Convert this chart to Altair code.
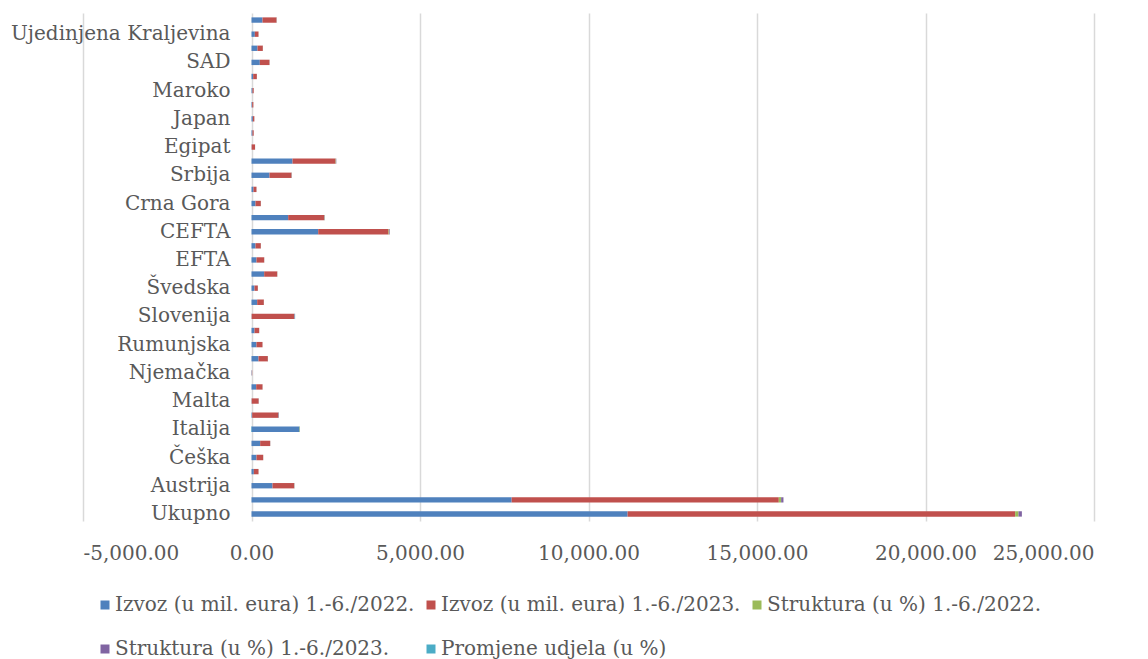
import altair as alt
import pandas as pd

# Categories from bottom (Ukupno) to top
kategorije = [
    "Ukupno", "EU", "Austrija", "Belgija", "Češka", "Francuska", "Italija",
    "Mađarska", "Malta", "Nizozemska", "Njemačka", "Poljska", "Rumunjska",
    "Slovačka", "Slovenija", "Španjolska", "Švedska", "Ostale zemlje EU",
    "EFTA", "Švicarska", "CEFTA", "Bosna i Hercegovina", "Crna Gora",
    "Sjeverna Makedonija", "Srbija", "Ostale zemlje", "Egipat", "Indija",
    "Japan", "Kina", "Maroko", "Rusija", "SAD", "Turska",
    "Ujedinjena Kraljevina", "Ostalo",
]
prikazane_oznake = [
    "Ukupno", "Austrija", "Češka", "Italija", "Malta", "Njemačka", "Rumunjska",
    "Slovenija", "Švedska", "EFTA", "CEFTA", "Crna Gora", "Srbija", "Egipat",
    "Japan", "Maroko", "SAD", "Ujedinjena Kraljevina",
]

izvoz_2022 = [11160, 7720, 623, 69, 148, 257, 1425, 20, 5, 139, 10, 208, 148,
              89, 5, 168, 89, 376, 148, 119, 1979, 1088, 119, 59, 534, 1217,
              5, 30, 40, 20, 30, 50, 247, 178, 99, 327]
izvoz_2023 = [11500, 7927, 643, 139, 198, 297, 0, 782, 208, 188, 10, 277, 178,
              139, 1267, 198, 99, 386, 228, 158, 2088, 1069, 158, 89, 653, 1277,
              100, 35, 45, 35, 35, 109, 287, 158, 109, 416]
struktura_2022 = [100, 69.2, 5.6, 0.6, 1.3, 2.3, 12.8, 0.2, 0.0, 1.2, 0.1, 1.9,
                  1.3, 0.8, 0.0, 1.5, 0.8, 3.4, 1.3, 1.1, 17.7, 9.7, 1.1, 0.5,
                  4.8, 10.9, 0.0, 0.3, 0.4, 0.2, 0.3, 0.4, 2.2, 1.6, 0.9, 2.9]
struktura_2023 = [100, 68.9, 5.6, 1.2, 1.7, 2.6, 0.0, 6.8, 1.8, 1.6, 0.1, 2.4,
                  1.5, 1.2, 11.0, 1.7, 0.9, 3.4, 2.0, 1.4, 18.2, 9.3, 1.4, 0.8,
                  5.7, 11.1, 0.9, 0.3, 0.4, 0.3, 0.3, 0.9, 2.5, 1.4, 0.9, 3.6]
promjene_udjela = [0.0, -0.3, 0.0, 0.6, 0.4, 0.3, -12.8, 6.6, 1.8, 0.4, 0.0,
                   0.5, 0.2, 0.4, 11.0, 0.2, 0.1, 0.0, 0.7, 0.3, 0.5, -0.4,
                   0.3, 0.3, 0.9, 0.2, 0.9, 0.0, 0.0, 0.1, 0.0, 0.5, 0.3, -0.2,
                   0.0, 0.7]

serije = [
    "Izvoz (u mil. eura) 1.-6./2022.",
    "Izvoz (u mil. eura) 1.-6./2023.",
    "Struktura (u %) 1.-6./2022.",
    "Struktura (u %) 1.-6./2023.",
    "Promjene udjela (u %)",
]
boje = ["#4F81BD", "#C0504D", "#9BBB59", "#8064A2", "#4BACC6"]
x_oznake = [-5000, 0, 5000, 10000, 15000, 20000, 25000]

stupci = [izvoz_2022, izvoz_2023, struktura_2022, struktura_2023, promjene_udjela]
rows = []
for i, kat in enumerate(kategorije):
    for j, s in enumerate(serije):
        rows.append({"kategorija": kat, "serija": s, "red": j, "vrijednost": stupci[j][i]})
df = pd.DataFrame(rows)

FONT = "DejaVu Serif"
TXT = "#595959"

chart = alt.Chart(df).mark_bar().encode(
    y=alt.Y(
        "kategorija:N",
        sort=list(reversed(kategorije)),
        scale=alt.Scale(paddingInner=0.62, paddingOuter=0.31),
        axis=alt.Axis(
            values=prikazane_oznake, domain=False, ticks=False, grid=False,
            offset=-169, labelPadding=22, labelFont=FONT, labelFontSize=20,
            labelColor=TXT, labelLimit=400, title=None,
        ),
    ),
    x=alt.X(
        "vrijednost:Q",
        stack="zero",
        scale=alt.Scale(domain=[-5000, 25000], nice=False, zero=False),
        axis=alt.Axis(
            values=x_oznake, grid=True, gridColor="#D9D9D9", gridWidth=1.5,
            domain=False, ticks=False, labelPadding=22, labelFont=FONT,
            labelFontSize=20, labelColor=TXT, title=None,
            labelExpr="(datum.value < 0 ? '-' : '') + format(abs(datum.value), ',.2f')",
        ),
    ),
    color=alt.Color(
        "serija:N",
        sort=serije,
        scale=alt.Scale(domain=serije, range=boje),
        legend=alt.Legend(
            orient="none", legendX=12, legendY=582, direction="horizontal",
            columns=3, title=None, symbolType="square", symbolSize=81,
            symbolStrokeWidth=0, labelFont=FONT, labelFontSize=20,
            labelOffset=0, labelColor=TXT, labelLimit=400,
            columnPadding=6, rowPadding=24,
        ),
    ),
    order=alt.Order("red:Q"),
).properties(
    width=1011,
    height=508,
    autosize=alt.AutoSizeParams(type="none"),
    padding={"left": 75, "top": 5, "right": 46, "bottom": 138},
).configure_view(stroke=None)

chart.save("out.html", embed_options={"renderer": "svg", "actions": False})
